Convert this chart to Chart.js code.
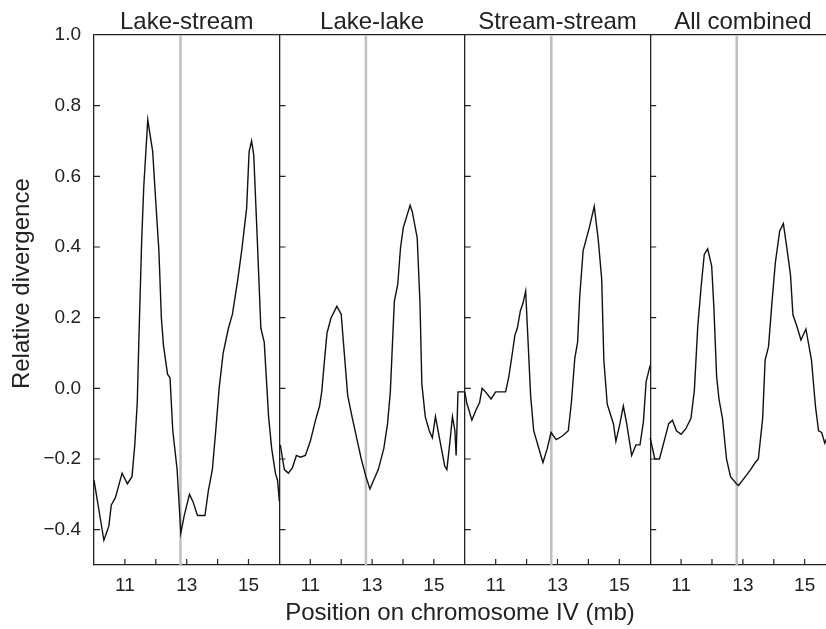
<!DOCTYPE html>
<html><head><meta charset="utf-8">
<script src="https://cdn.jsdelivr.net/npm/chart.js@4/dist/chart.umd.min.js"></script>
<style>html,body{margin:0;padding:0;background:#fff;overflow:hidden}canvas{display:block}</style>
</head><body>
<canvas id="c" width="826" height="629"></canvas>
<script>
// ---- data ----
const panelTitles = ['Lake-stream', 'Lake-lake', 'Stream-stream', 'All combined'];
const xTickLabels = [11, 13, 15];
const yTickLabels = [-0.4, -0.2, 0.0, 0.2, 0.4, 0.6, 0.8, 1.0];
const gapPosition = 12.8; // grey marker position (mb)
const yAxisTitle = 'Relative divergence';
const xAxisTitle = 'Position on chromosome IV (mb)';

const lakeStreamPos = [10.0,10.17,10.32,10.48,10.56,10.69,10.91,11.08,11.23,11.32,11.40,11.45,11.54,11.61,11.74,11.90,11.99,12.10,12.18,12.25,12.38,12.46,12.55,12.69,12.81,12.92,13.09,13.20,13.35,13.59,13.70,13.83,13.94,14.05,14.18,14.35,14.48,14.64,14.78,14.94,15.02,15.10,15.17,15.29,15.40,15.51,15.65,15.75,15.87,15.94,16.0];
const lakeStreamVal = [-0.26,-0.35,-0.43,-0.39,-0.33,-0.31,-0.24,-0.27,-0.25,-0.16,-0.04,0.13,0.41,0.57,0.76,0.67,0.54,0.39,0.20,0.12,0.04,0.03,-0.12,-0.23,-0.41,-0.36,-0.30,-0.32,-0.36,-0.36,-0.29,-0.23,-0.12,0.0,0.10,0.17,0.21,0.30,0.39,0.51,0.67,0.70,0.66,0.41,0.17,0.13,-0.08,-0.17,-0.24,-0.26,-0.32];

const lakeLakePos = [10.03,10.16,10.29,10.42,10.55,10.68,10.84,11.0,11.17,11.3,11.37,11.45,11.54,11.67,11.86,12.0,12.1,12.21,12.35,12.5,12.65,12.8,12.93,13.05,13.2,13.38,13.5,13.59,13.72,13.83,13.92,14.01,14.23,14.3,14.46,14.55,14.61,14.72,14.85,14.95,15.05,15.2,15.35,15.42,15.52,15.6,15.68,15.72,15.78,16.0];
const lakeLakeVal = [-0.16,-0.23,-0.24,-0.225,-0.19,-0.195,-0.19,-0.15,-0.09,-0.05,-0.01,0.07,0.156,0.199,0.232,0.21,0.10,-0.02,-0.08,-0.14,-0.2,-0.25,-0.285,-0.26,-0.23,-0.17,-0.1,-0.01,0.246,0.294,0.398,0.455,0.518,0.50,0.426,0.24,0.013,-0.08,-0.12,-0.14,-0.08,-0.15,-0.22,-0.23,-0.15,-0.08,-0.12,-0.19,-0.01,-0.01];

const streamStreamPos = [10.0,10.06,10.23,10.37,10.48,10.56,10.67,10.85,11.0,11.32,11.42,11.54,11.62,11.70,11.80,11.88,11.97,12.06,12.13,12.23,12.43,12.53,12.67,12.79,12.96,13.16,13.35,13.45,13.56,13.65,13.72,13.83,14.03,14.19,14.32,14.43,14.50,14.61,14.81,14.89,15.02,15.13,15.24,15.40,15.54,15.67,15.78,15.87,16.0];
const streamStreamVal = [-0.01,-0.04,-0.09,-0.06,-0.04,0.0,-0.01,-0.03,-0.01,-0.01,0.03,0.10,0.15,0.17,0.22,0.24,0.275,0.11,-0.02,-0.12,-0.18,-0.21,-0.17,-0.125,-0.145,-0.135,-0.12,-0.04,0.085,0.13,0.26,0.39,0.455,0.515,0.42,0.31,0.08,-0.045,-0.10,-0.15,-0.10,-0.05,-0.10,-0.19,-0.16,-0.16,-0.095,0.02,0.065];

const allCombinedPos = [10.0,10.15,10.3,10.45,10.6,10.72,10.85,11.0,11.15,11.32,11.43,11.54,11.65,11.75,11.86,11.99,12.06,12.15,12.23,12.34,12.47,12.6,12.79,12.86,13.08,13.25,13.4,13.5,13.64,13.72,13.83,13.94,14.05,14.19,14.31,14.43,14.54,14.62,14.75,14.88,15.04,15.22,15.35,15.45,15.55,15.65,15.72];
const allCombinedVal = [-0.14,-0.2,-0.2,-0.15,-0.1,-0.09,-0.12,-0.13,-0.115,-0.085,-0.005,0.175,0.289,0.379,0.395,0.346,0.232,0.033,-0.033,-0.085,-0.2,-0.25,-0.27,-0.275,-0.25,-0.23,-0.21,-0.2,-0.085,0.08,0.118,0.242,0.355,0.445,0.466,0.393,0.322,0.208,0.175,0.137,0.168,0.08,-0.052,-0.12,-0.125,-0.155,-0.14];

// ---- layout of the four panels on one shared axis ----
const panelMin = 10, panelSpan = 6;
const yMin = -0.5, yMax = 1.0;
const visibleMax = 23.69; // last panel runs past the right edge of the picture
const series = [
  [lakeStreamPos, lakeStreamVal],
  [lakeLakePos, lakeLakeVal],
  [streamStreamPos, streamStreamVal],
  [allCombinedPos, allCombinedVal]
];
const toShared = (pos, k) => pos - panelMin + k * panelSpan;

const FONT = '"Liberation Sans", Arial, Helvetica, sans-serif';
const INK = '#222222';

const datasets = [];
series.forEach(([pos, val], k) => {
  datasets.push({
    data: pos.map((p, i) => ({x: toShared(p, k), y: val[i]})),
    borderColor: '#111111', borderWidth: 1.4, pointRadius: 0, tension: 0, order: 1
  });
  datasets.push({
    data: [{x: toShared(gapPosition, k), y: yMin}, {x: toShared(gapPosition, k), y: yMax}],
    borderColor: '#bfbfbf', borderWidth: 2.5, pointRadius: 0, order: 2
  });
});

const fmt = v => (v < 0 ? '\u2212' : '') + Math.abs(v).toFixed(1);

const framePlugin = {
  id: 'frame',
  afterDraw(chart) {
    const ctx = chart.ctx, xs = chart.scales.x, ys = chart.scales.y, area = chart.chartArea;
    ctx.save();
    ctx.strokeStyle = INK; ctx.lineWidth = 1.2;
    ctx.beginPath();
    xs.ticks.forEach(t => {
      if (t.value % panelSpan !== 0) {
        const px = xs.getPixelForValue(t.value);
        ctx.moveTo(px, area.bottom); ctx.lineTo(px, area.bottom - 6);
      }
    });
    for (let k = 0; k < panelTitles.length; k++) {
      const bx = xs.getPixelForValue(k * panelSpan);
      ys.ticks.forEach(t => {
        if (t.value > yMin + 1e-6 && t.value < yMax - 1e-6) {
          const py = ys.getPixelForValue(t.value);
          ctx.moveTo(bx, py); ctx.lineTo(bx + 6, py);
        }
      });
    }
    ctx.stroke();
    ctx.fillStyle = INK;
    ctx.font = '24px ' + FONT;
    ctx.textAlign = 'center'; ctx.textBaseline = 'alphabetic';
    panelTitles.forEach((title, k) => {
      ctx.fillText(title, xs.getPixelForValue(k * panelSpan + panelSpan / 2), 29);
    });
    // y-axis title
    ctx.save();
    ctx.translate(22, ys.getPixelForValue(0.2) - 34);
    ctx.rotate(-Math.PI / 2);
    ctx.textBaseline = 'middle';
    ctx.fillText(yAxisTitle, 0, 0);
    ctx.restore();
    ctx.restore();
  }
};

new Chart(document.getElementById('c'), {
  type: 'line',
  data: {datasets},
  options: {
    responsive: false, animation: false,
    layout: {padding: {top: 35, right: 0, left: 0, bottom: 0}},
    plugins: {legend: {display: false}, tooltip: {enabled: false}},
    scales: {
      x: {
        type: 'linear', min: 0, max: visibleMax,
        afterBuildTicks: s => {
          const t = [];
          for (let v = 0; v <= Math.floor(visibleMax); v++) t.push({value: v});
          s.ticks = t;
        },
        afterFit: s => { s.height = 64; s.paddingLeft = 0; s.paddingRight = 0; },
        border: {display: true, color: INK, width: 1.3},
        grid: {
          drawTicks: false, lineWidth: 1.3,
          color: c => (c.tick && c.tick.value > 0 && c.tick.value % panelSpan === 0) ? INK : 'rgba(0,0,0,0)'
        },
        ticks: {
          autoSkip: false, maxRotation: 0, minRotation: 0, padding: 9,
          color: INK, font: {family: FONT, size: 19},
          callback: v => {
            const local = v - panelSpan * Math.floor(v / panelSpan) + panelMin;
            return xTickLabels.includes(local) ? String(local) : '';
          }
        },
        title: {display: true, text: xAxisTitle, color: INK,
          font: {family: FONT, size: 24}, padding: {top: 0, bottom: 1}}
      },
      y: {
        min: yMin, max: yMax,
        afterFit: s => { s.width = 94; s.paddingTop = 0; s.paddingBottom = 0; },
        border: {display: true, color: INK, width: 1.3},
        grid: {
          drawTicks: false, lineWidth: 1.3,
          color: c => (c.tick && Math.abs(c.tick.value - yMax) < 1e-9) ? INK : 'rgba(0,0,0,0)'
        },
        ticks: {
          stepSize: 0.2, padding: 13, color: INK, font: {family: FONT, size: 19},
          callback: v => yTickLabels.some(t => Math.abs(t - v) < 1e-9) ? fmt(v) : ''
        },
        title: {display: false}
      }
    }
  },
  plugins: [framePlugin]
});
</script>
</body></html>
